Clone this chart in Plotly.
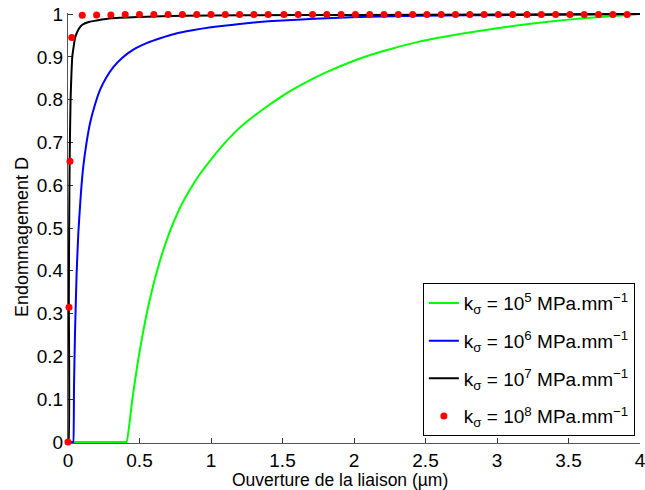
import plotly.graph_objects as go

# Green: k = 1e5
x_g = [0.0, 0.40, 0.41, 0.45, 0.50, 0.57, 0.64, 0.71, 0.78, 0.85, 0.92, 1.0, 1.1, 1.2, 1.35, 1.5, 1.65, 1.8, 2.0, 2.2, 2.45, 2.75, 3.0, 3.25, 3.5, 3.75, 4.0]
y_g = [0.0, 0.0, 0.0, 0.10, 0.21, 0.33, 0.42, 0.49, 0.545, 0.588, 0.625, 0.66, 0.70, 0.734, 0.774, 0.809, 0.838, 0.863, 0.891, 0.913, 0.935, 0.954, 0.967, 0.978, 0.987, 0.994, 1.0]

# Blue: k = 1e6
x_b = [0.0, 0.035, 0.037, 0.042, 0.049, 0.06, 0.072, 0.09, 0.107, 0.13, 0.154, 0.19, 0.224, 0.27, 0.317, 0.38, 0.457, 0.55, 0.65, 0.75, 0.87, 1.0, 1.2, 1.4, 1.6, 1.85, 2.1, 2.45, 2.8, 3.2, 3.6, 4.0]
y_b = [0.0, 0.0, 0.0, 0.13, 0.254, 0.39, 0.487, 0.58, 0.644, 0.70, 0.745, 0.79, 0.823, 0.853, 0.876, 0.898, 0.917, 0.932, 0.944, 0.954, 0.962, 0.969, 0.977, 0.983, 0.987, 0.991, 0.994, 0.996, 0.997, 0.998, 0.999, 1.0]

# Black: k = 1e7
x_k = [0.0, 0.004, 0.006, 0.008, 0.012, 0.018, 0.024, 0.03, 0.04, 0.05, 0.075, 0.1, 0.15, 0.2, 0.3, 0.5, 0.8, 1.2, 2.0, 3.0, 4.0]
y_k = [0.0, 0.0, 0.33, 0.5, 0.67, 0.8, 0.86, 0.9, 0.925, 0.945, 0.965, 0.975, 0.982, 0.985, 0.99, 0.993, 0.996, 0.997, 0.998, 0.999, 1.0]

# Red dots: k = 1e8
x_r = [0.0, 0.007, 0.014, 0.026,
       0.10, 0.20, 0.30, 0.40, 0.50, 0.60, 0.70, 0.80, 0.90, 1.00,
       1.10, 1.20, 1.30, 1.40, 1.51, 1.61, 1.71, 1.81, 1.91, 2.01,
       2.11, 2.21, 2.31, 2.41, 2.51, 2.61, 2.71, 2.81, 2.91, 3.01,
       3.11, 3.21, 3.31, 3.41, 3.51, 3.61, 3.71, 3.81, 3.91]
y_r = [0.0, 0.315, 0.656, 0.945,
       0.997, 0.998, 0.998, 0.999, 0.999, 0.999, 0.999, 0.999, 0.999, 0.999,
       0.999, 0.999, 0.999, 0.999, 0.999, 0.999, 0.999, 0.999, 0.999, 0.999,
       0.999, 0.999, 0.999, 0.999, 0.999, 0.999, 0.999, 0.999, 0.999, 0.999,
       0.999, 0.999, 0.999, 0.999, 0.999, 0.999, 0.999, 0.999, 0.999]

x_ticks = [0, 0.5, 1, 1.5, 2, 2.5, 3, 3.5, 4]
x_ticklabels = ["0", "0.5", "1", "1.5", "2", "2.5", "3", "3.5", "4"]
y_ticks = [0, 0.1, 0.2, 0.3, 0.4, 0.5, 0.6, 0.7, 0.8, 0.9, 1]
y_ticklabels = ["0", "0.1", "0.2", "0.3", "0.4", "0.5", "0.6", "0.7", "0.8", "0.9", "1"]

names = [
    "k<sub>σ</sub> = 10<sup>5</sup> MPa.mm<sup>−1</sup>",
    "k<sub>σ</sub> = 10<sup>6</sup> MPa.mm<sup>−1</sup>",
    "k<sub>σ</sub> = 10<sup>7</sup> MPa.mm<sup>−1</sup>",
    "k<sub>σ</sub> = 10<sup>8</sup> MPa.mm<sup>−1</sup>",
]
x_title = "Ouverture de la liaison (µm)"
y_title = "Endommagement D"

FONT = "Liberation Sans, Arial, sans-serif"
FS = 19

fig = go.Figure()
fig.add_trace(go.Scatter(x=x_g, y=y_g, mode="lines", name=names[0], legendgroup="g1",
                         line=dict(color="#00FF00", width=2, shape="spline", smoothing=0.5)))
fig.add_trace(go.Scatter(x=x_b, y=y_b, mode="lines", name=names[1], legendgroup="g2",
                         line=dict(color="#0000FF", width=2, shape="spline", smoothing=0.5)))
fig.add_trace(go.Scatter(x=x_k, y=y_k, mode="lines", name=names[2], legendgroup="g3",
                         line=dict(color="#000000", width=2, shape="spline", smoothing=0.5)))
fig.add_trace(go.Scatter(x=x_r, y=y_r, mode="markers", name=names[3], legendgroup="g4",
                         marker=dict(color="#FF0000", size=7), cliponaxis=False))

fig.update_layout(
    width=645, height=490,
    margin=dict(l=68, r=5, t=13, b=47),
    plot_bgcolor="white", paper_bgcolor="white",
    font=dict(family=FONT, size=FS, color="black"),
    legend=dict(x=0.991, y=0.016, xanchor="right", yanchor="bottom",
                bgcolor="white", bordercolor="black", borderwidth=1,
                tracegroupgap=10, font=dict(size=FS)),
    showlegend=True,
    annotations=[
        dict(text=x_title, xref="paper", yref="paper", x=0.4755, y=-0.085,
             xanchor="center", yanchor="middle", showarrow=False,
             font=dict(size=17.5)),
        dict(text=y_title, xref="paper", yref="paper", x=-0.0804, y=0.479,
             xanchor="center", yanchor="middle", showarrow=False, textangle=-90,
             font=dict(size=18)),
    ],
)
fig.update_xaxes(range=[0, 4], tickvals=x_ticks, ticktext=x_ticklabels,
                 automargin=False, ticklabeloverflow="allow",
                 showgrid=False, zeroline=False, showline=True, linecolor="#555",
                 linewidth=1, ticks="inside", ticklen=5, tickcolor="#333",
                 layer="below traces")
fig.update_yaxes(range=[-0.0025, 1.0025], tickvals=y_ticks, ticktext=y_ticklabels,
                 automargin=False, ticklabeloverflow="allow",
                 showgrid=False, zeroline=False, showline=True, linecolor="#555",
                 linewidth=1, ticks="inside", ticklen=5, tickcolor="#333",
                 layer="below traces")

fig.write_html("out.html", config={"displayModeBar": False},
               post_script="document.body.style.margin='0px';document.body.style.padding='0px';")
